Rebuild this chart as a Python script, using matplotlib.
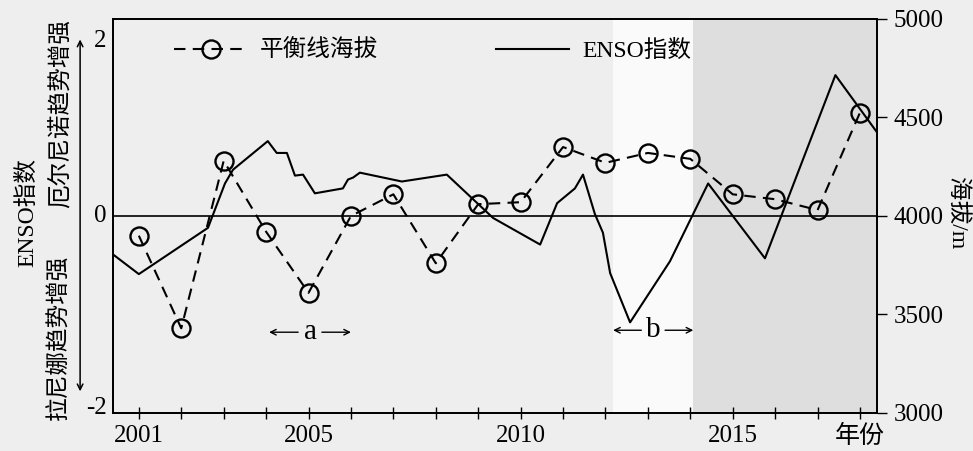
import matplotlib
matplotlib.use("Agg")
import matplotlib.pyplot as plt
from matplotlib.lines import Line2D
import matplotlib.transforms as mtransforms

plt.rcParams['font.family'] = ['Liberation Serif', 'Noto Sans CJK SC']

# ---- data ----
years = list(range(2001, 2019))
altitude = [3900, 3430, 4280, 3920, 3610, 4000, 4110, 3760, 4060,
            4070, 4350, 4270, 4320, 4290, 4110, 4085, 4030, 4525]

enso_t = [2000.39, 2001.0, 2002.63, 2003.03, 2003.22, 2004.04, 2004.25,
          2004.49, 2004.68, 2004.87, 2005.15, 2005.81, 2005.93, 2006.05,
          2006.21, 2007.20, 2008.26, 2009.35, 2010.46, 2010.86, 2011.28,
          2011.47, 2011.75, 2011.94, 2012.11, 2012.58, 2013.52, 2014.42,
          2015.76, 2017.42, 2018.40]
enso = [-0.39, -0.59, -0.12, 0.33, 0.47, 0.76, 0.64,
        0.64, 0.41, 0.42, 0.23, 0.28, 0.37, 0.39,
        0.44, 0.35, 0.42, -0.02, -0.29, 0.13, 0.28,
        0.42, 0.02, -0.17, -0.58, -1.08, -0.46, 0.33,
        -0.43, 1.43, 0.85]

xtick_labels = ['2001', '', '', '', '2005', '', '', '', '', '2010',
                '', '', '', '', '2015', '', '', '年份']
alt_ticks = [3000, 3500, 4000, 4500, 5000]

# periods a and b
span_a = (2004.07, 2006.0)
span_b = (2012.18, 2014.07)

fs = 17      # chinese text
fn = 18      # numbers
bg = '#eeeeee'
fig = plt.figure(figsize=(9.73, 4.51), dpi=100, facecolor=bg)
ax = fig.add_axes([0.1161, 0.0843, 0.7852, 0.8736], facecolor=bg)
ax2 = ax.twinx()

x0, x1 = 2000.39, 2018.4
ax.set_xlim(x0, x1)
ax.set_ylim(-2, 2)
ax2.set_ylim(3000, 5000)

# background shading
ax.axvspan(span_b[0], span_b[1], color='#fafafa', zorder=0, lw=0)
ax.axvspan(span_b[1], x1, color='#dedede', zorder=0, lw=0)

ax.axhline(0, color='black', lw=1.2, zorder=2)

ax.plot(enso_t, enso, color='black', lw=1.5, zorder=3)
ax2.plot(years, altitude, color='black', lw=1.5, dashes=(5.5, 3.5),
         marker='o', markersize=13, markerfacecolor='none',
         markeredgewidth=1.7, markeredgecolor='black', zorder=3)

# x axis
ax.set_xticks(years)
ax.set_xticklabels(xtick_labels, fontsize=fn)
ax.tick_params(axis='x', direction='inout', length=9, width=1, pad=4)

# left axis: no ticks on box, labels drawn manually next to an arrow
ax.set_yticks([])
for s in ['left', 'top', 'right', 'bottom']:
    ax.spines[s].set_linewidth(1.3)
    ax2.spines[s].set_linewidth(1.3)

trans = mtransforms.blended_transform_factory(ax.transAxes, ax.transData)
ax.text(-0.008, 1.78, '2', transform=trans, ha='right', va='center', fontsize=fn)
ax.text(-0.008, 0, '0', transform=trans, ha='right', va='center', fontsize=fn)
ax.text(-0.008, -1.95, '-2', transform=trans, ha='right', va='center', fontsize=fn)
ax.annotate('', xy=(-0.043, 0.948), xytext=(-0.043, 0.055),
            xycoords='axes fraction', textcoords='axes fraction',
            arrowprops=dict(arrowstyle='<->', lw=1.1, color='black',
                            shrinkA=0, shrinkB=0))

ax.text(-0.1126, 0.51, 'ENSO指数', transform=ax.transAxes, rotation=90,
        ha='center', va='center', fontsize=fs)
ax.text(-0.0694, 0.759, '厄尔尼诺趋势增强', transform=ax.transAxes,
        rotation=90, ha='center', va='center', fontsize=fs)
ax.text(-0.0694, 0.193, '拉尼娜趋势增强', transform=ax.transAxes,
        rotation=90, ha='center', va='center', fontsize=fs)

# right axis
ax2.set_yticks(alt_ticks)
ax2.set_yticklabels([str(v) for v in alt_ticks], fontsize=fn)
ax2.tick_params(axis='y', direction='out', length=7, width=1, pad=5)
ax2.text(1.105, 0.508, '海拔/m', transform=ax.transAxes, rotation=270,
         ha='center', va='center', fontsize=fs)

# period annotations
def period(span, label, y):
    mid = (span[0] + span[1]) / 2
    gap = 0.28
    for end, start in [(span[0], mid - gap), (span[1], mid + gap)]:
        ax.annotate('', xy=(end, y), xytext=(start, y),
                    arrowprops=dict(arrowstyle='->', lw=1.0, color='black',
                                    shrinkA=0, shrinkB=0))
    ax.text(mid, y, label, ha='center', va='center', fontsize=21)

period(span_a, 'a', -1.18)
period(span_b, 'b', -1.16)

# legend
h1 = Line2D([], [], color='black', lw=1.5, dashes=(5.5, 3.5), marker='o',
            markersize=13, markerfacecolor='none', markeredgewidth=1.7)
h2 = Line2D([], [], color='black', lw=1.5)
ax.legend([h1, h2], ['平衡线海拔', 'ENSO指数'], loc='upper left',
          bbox_to_anchor=(0.052, 1.0), ncol=2, frameon=False, fontsize=fs,
          handlelength=3.1, columnspacing=5.0, handletextpad=0.55)

fig.savefig('out.png', dpi=100, facecolor=bg)
